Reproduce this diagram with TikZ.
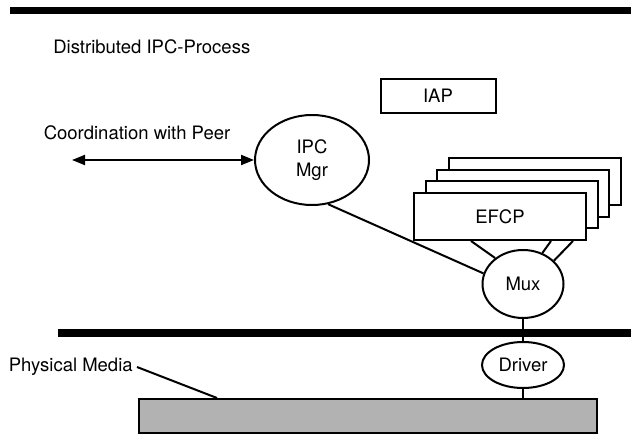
\documentclass[tikz,border=0pt]{standalone}
\usepackage{fontspec}
\setmainfont{TeX Gyre Heros}
\usetikzlibrary{arrows.meta,shapes.geometric}

\begin{document}
\begin{tikzpicture}[x=1pt,y=-1pt,line width=2pt,
  font=\fontsize{18.5}{22}\selectfont,
  proc/.style={draw,ellipse,fill=white,inner sep=0pt},
  box/.style={draw,rectangle,fill=white,inner sep=0pt},
  bar/.style={line width=7.5pt},
  tip/.style={{Triangle[length=13pt,width=10pt]}-{Triangle[length=13pt,width=10pt]}}]
\useasboundingbox (0,0) rectangle (631,435);
\draw[bar] (10,10.5) -- (631,10.5);
\draw[bar] (58,333) -- (631,333);
\node[anchor=west] (title) at (49,47) {Distributed IPC-Process};
\node[box,minimum width=115pt,minimum height=34pt] (iap) at (438,96) {IAP};
\node (coord) at (137,133) {Coordination with Peer};
\coordinate (peer) at (72,160);
\node[proc,minimum width=114pt,minimum height=90pt,align=center] (ipc) at (312,160) {IPC\\[1pt]Mgr};
\foreach \k in {3,2,1}
  \node[box,minimum width=172pt,minimum height=47pt] at (500+11.5*\k,216.5-11.5*\k) {};
\node[box,minimum width=172pt,minimum height=47pt] (efcp) at (500,216.5) {EFCP};
\node[proc,minimum width=81pt,minimum height=68pt] (mux) at (523,284) {Mux};
\node[proc,minimum width=82pt,minimum height=46pt] (driver) at (523,365) {Driver};
\node[box,fill=black!30,minimum width=458pt,minimum height=34pt] (media) at (368,416) {};
\node[anchor=east] (pm) at (137,367) {Physical Media};
\draw[tip] (peer) -- (ipc.west);
\draw (ipc.-70) -- (mux.165);
\draw ([xshift=58pt]efcp.south west) -- (mux.137);
\draw ([xshift=138pt]efcp.south west) -- (mux.58);
\draw ([xshift=160pt]efcp.south west) -- (mux.37);
\draw (mux) -- (driver);
\draw (driver.south) -- (driver.south |- media.north);
\draw (pm.east) -- ([xshift=79pt]media.north west);
\end{tikzpicture}
\end{document}
